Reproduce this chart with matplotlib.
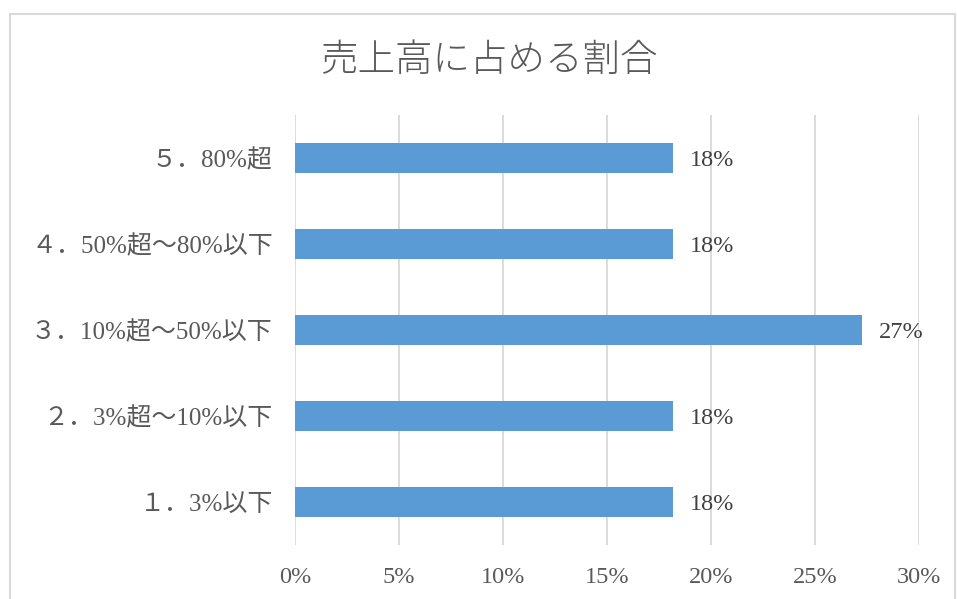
import matplotlib.pyplot as plt
from matplotlib.patches import Rectangle

plt.rcParams['font.family'] = ['Liberation Serif', 'Noto Sans CJK JP']

title = '売上高に占める割合'
categories = ['１．3%以下', '２．3%超～10%以下', '３．10%超～50%以下',
              '４．50%超～80%以下', '５．80%超']
shares = [18.18, 18.18, 27.27, 18.18, 18.18]
xticks = [0, 5, 10, 15, 20, 25, 30]

text_gray = '#595959'
bar_blue = '#5B9BD5'
grid_gray = '#D9D9D9'

fig = plt.figure(figsize=(9.57, 5.99), dpi=100)

# chart frame (cropped Excel chart border)
fig.patches.append(Rectangle((9.5 / 957, -0.05), (955 - 9.5) / 957, 1.05 - 13.5 / 599,
                             transform=fig.transFigure, fill=False,
                             edgecolor=grid_gray, linewidth=1.5))

ax = fig.add_axes([295 / 957, 1 - 545 / 599, (919 - 295) / 957, (545 - 115) / 599])

y = range(len(categories))
ax.barh(y, shares, height=0.35, color=bar_blue, zorder=3)
for yi, v in zip(y, shares):
    ax.text(v + 0.8, yi, '{:.0f}%'.format(v), va='center_baseline', ha='left',
            fontsize=17.5, color='#404040')

ax.set_xlim(0, 30)
ax.set_ylim(-0.5, len(categories) - 0.5)
ax.set_xticks(xticks)
ax.set_xticklabels(['{}%'.format(t) for t in xticks], fontsize=17.5, color=text_gray)
ax.set_yticks(list(y))
ax.set_yticklabels(categories, fontsize=18, color=text_gray)
ax.tick_params(axis='both', length=0)
ax.tick_params(axis='x', pad=16)
ax.tick_params(axis='y', pad=16)
ax.grid(axis='x', color=grid_gray, linewidth=1.3, zorder=0)
for s in ax.spines.values():
    s.set_visible(False)

fig.text(489 / 957, 1 - 60 / 599, title, ha='center', va='center',
         fontsize=27, color=text_gray, fontfamily=['Noto Sans CJK JP'],
         fontweight='light')

fig.savefig('out.png', dpi=100)
